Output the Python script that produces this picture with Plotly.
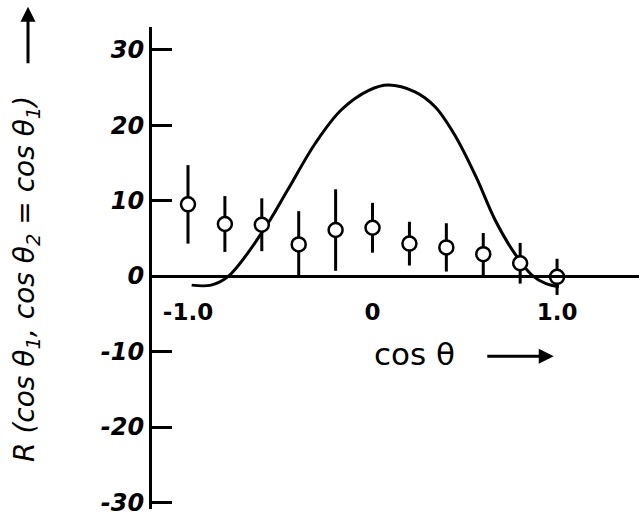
import plotly.graph_objects as go

# Data
cos_theta = [-1.0, -0.8, -0.6, -0.4, -0.2, 0.0, 0.2, 0.4, 0.6, 0.8, 1.0]
R_values = [9.5, 6.9, 6.8, 4.2, 6.1, 6.4, 4.3, 3.8, 2.9, 1.7, -0.1]
R_errors = [5.2, 3.7, 3.5, 4.4, 5.4, 3.3, 2.9, 3.2, 2.8, 2.7, 2.4]

curve_x = [-0.98, -0.875, -0.78, -0.59, -0.46, -0.31, -0.17, -0.02, 0.085,
           0.23, 0.34, 0.45, 0.56, 0.665, 0.77, 0.865, 0.94, 1.01]
curve_y = [-1.2, -1.2, 0.0, 6.1, 11.4, 17.6, 22.0, 24.6, 25.3,
           24.4, 22.4, 18.5, 13.2, 7.4, 3.0, 0.1, -1.0, -1.4]

y_ticks = [30, 20, 10, 0, -10, -20, -30]
x_ticks = [-1.0, 0.0, 1.0]
x_tick_text = ["-1.0", "0", "1.0"]

x_range = [-1.195, 1.444]
y_range = [-30.86, 33.0]
zero_pos = (0 - y_range[0]) / (y_range[1] - y_range[0])

fig = go.Figure()
fig.add_trace(go.Scatter(
    x=curve_x, y=curve_y, mode="lines",
    line=dict(color="black", width=3, shape="spline", smoothing=1.0),
    showlegend=False, hoverinfo="skip"))
fig.add_trace(go.Scatter(
    x=cos_theta, y=R_values, mode="markers",
    marker=dict(symbol="circle", size=14, color="white",
                line=dict(color="black", width=2.5)),
    error_y=dict(type="data", array=R_errors, visible=True,
                 color="black", thickness=3, width=0),
    showlegend=False))

fig.update_layout(
    width=639, height=517,
    margin=dict(l=152, r=0, t=27, b=8),
    paper_bgcolor="white", plot_bgcolor="white",
    xaxis=dict(range=x_range, anchor="free", position=zero_pos,
               showline=True, linecolor="black", linewidth=3,
               showgrid=False, zeroline=False,
               tickvals=x_ticks, ticktext=x_tick_text,
               ticks="outside", ticklen=14, tickcolor="rgba(0,0,0,0)",
               tickfont=dict(family="DejaVu Sans", size=23, color="black",
                             weight="bold")),
    yaxis=dict(range=y_range, showline=True, linecolor="black", linewidth=3,
               showgrid=False, zeroline=False,
               tickvals=y_ticks, ticktext=[str(v) for v in y_ticks],
               ticks="inside", ticklen=20, tickwidth=3, tickcolor="black",
               tickfont=dict(family="DejaVu Sans", size=24, color="black",
                             style="italic", weight="bold")),
    annotations=[
        dict(text="R (cos θ<sub>1</sub>, cos θ<sub>2</sub> = cos θ<sub>1</sub>)",
             xref="paper", yref="paper", x=-0.258, y=0.478,
             xanchor="center", yanchor="middle",
             textangle=-90, showarrow=False,
             font=dict(family="DejaVu Sans", size=28, color="black",
                       style="italic")),
        dict(text="", xref="paper", yref="paper", x=-0.2546, y=1.042,
             ax=0, ay=58, showarrow=True, arrowhead=2, arrowsize=1,
             arrowwidth=3, arrowcolor="black"),
        dict(text="cos θ", xref="paper", yref="paper", x=0.54, y=0.321,
             xanchor="center", yanchor="middle", showarrow=False,
             font=dict(family="DejaVu Sans", size=31, color="black")),
        dict(text="", xref="paper", yref="paper", x=0.825, y=0.317,
             ax=-68, ay=0, showarrow=True, arrowhead=2, arrowsize=1,
             arrowwidth=3, arrowcolor="black"),
    ],
)

fig.write_html("out.html")
